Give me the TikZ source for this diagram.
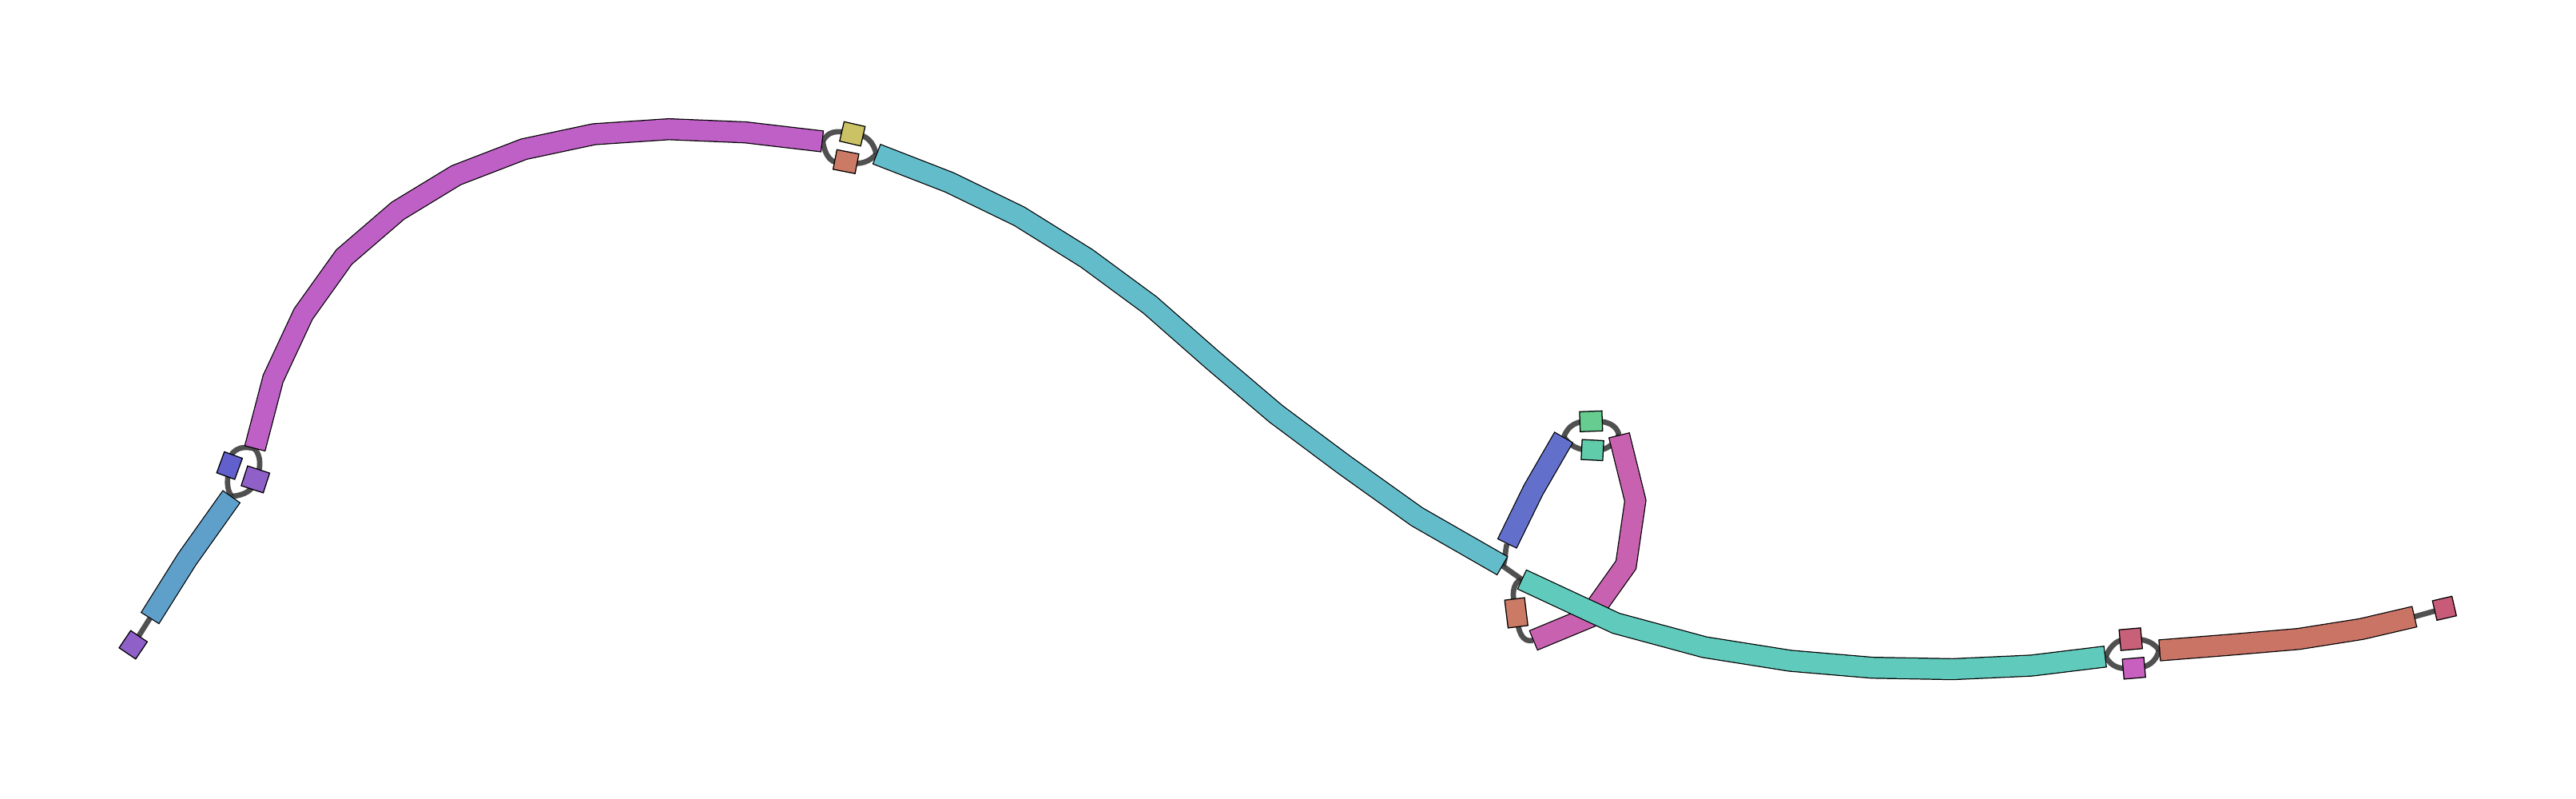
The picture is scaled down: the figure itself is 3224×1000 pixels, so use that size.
\documentclass[tikz,border=0pt]{standalone}
\pgfdeclarelayer{back}
\pgfdeclarelayer{bg}
\pgfsetlayers{back,bg,main}
\definecolor{cMag}{RGB}{190,96,198}
\definecolor{cCyan}{RGB}{99,188,202}
\definecolor{cLBlue}{RGB}{95,160,203}
\definecolor{cPurp}{RGB}{143,96,200}
\definecolor{cBPurp}{RGB}{98,96,204}
\definecolor{cYel}{RGB}{203,194,102}
\definecolor{cOra}{RGB}{203,122,102}
\definecolor{cBlue}{RGB}{98,112,204}
\definecolor{cGreen}{RGB}{102,204,144}
\definecolor{cTGreen}{RGB}{96,204,170}
\definecolor{cPink}{RGB}{200,98,176}
\definecolor{cTeal}{RGB}{96,202,188}
\definecolor{cPRed}{RGB}{200,96,122}
\definecolor{cMagSq}{RGB}{200,96,192}
\definecolor{cRed}{RGB}{202,116,102}
\definecolor{cRedSq}{RGB}{200,92,120}
\definecolor{cEdge}{RGB}{50,50,50}
\tikzset{
  riboutline/.style={line width=7.8pt, draw=black, line join=miter, miter limit=20},
  ribfill/.style={line width=7.1pt, draw=#1, line join=miter, miter limit=20, shorten <=0.36pt, shorten >=0.36pt},
  sq/.style={draw=black, line width=0.36pt, inner sep=0pt, fill=#1},
  conn/.style={draw=cEdge, line width=1.9pt, opacity=0.85}
}
\newcommand\ribbon[2]{\draw[riboutline] #2; \draw[ribfill=#1] #2;}
\begin{document}
\begin{tikzpicture}[x=0.01cm,y=-0.01cm]
\useasboundingbox (0,0) rectangle (3224,1000);
\begin{pgfonlayer}{back}
\fill[white] (0,0) rectangle (3224,1000);
\end{pgfonlayer}

% ribbon end coordinates
\coordinate (magA) at (318.9,561.7);
\coordinate (magB) at (1029.6,177);
\coordinate (lbA) at (290,621.2);
\coordinate (lbB) at (187.5,774);
\coordinate (cyA) at (1096.7,192.7);
\coordinate (cyB) at (1880.7,708.3);
\coordinate (blA) at (1886,680.7);
\coordinate (blB) at (1957.3,547);
\coordinate (pkA) at (2026.3,544.3);
\coordinate (pkB) at (1918.7,801.7);
\coordinate (tlA) at (1904.3,725);
\coordinate (tlB) at (2635.3,821.7);
\coordinate (rdA) at (2702.3,814);
\coordinate (rdB) at (3022.3,771.7);

% ribbons
\ribbon{cMag}{(magA) -- (341.8,474) -- (379.6,393) -- (430.6,321.7) -- (498,263.7) -- (571,219.3) -- (655.6,186.7) -- (743.4,168) -- (837.2,161.7) -- (933.2,165.7) -- (magB)}
\ribbon{cLBlue}{(lbA) -- (234,700) -- (lbB)}
\ribbon{cCyan}{(cyA) -- (1188.3,228.3) -- (1275.7,270.7) -- (1360,323.3) -- (1439.3,381.7) -- (1517,450) -- (1597,518) -- (1682.3,581.7) -- (1773.3,646.7) -- (cyB)}
\ribbon{cBlue}{(blA) -- (1919,613.3) -- (blB)}
\ribbon{cPink}{(pkA) -- (2046.7,626.7) -- (2035,707) -- (1988,773) -- (pkB)}
\ribbon{cTeal}{(tlA) -- (2022.3,780) -- (2133.3,810) -- (2240.7,827) -- (2343.3,835.7) -- (2444,837.5) -- (2542.7,833) -- (tlB)}
\ribbon{cRed}{(rdA) -- (2790.7,807) -- (2876.7,799.7) -- (2955.3,787.3) -- (rdB)}

% small nodes
\node[sq=cPurp, minimum width=0.25cm, minimum height=0.26cm, rotate=-34] (s1) at (166.7,807) {};
\node[sq=cBPurp, minimum width=0.24cm, minimum height=0.28cm, rotate=-20] (s2) at (287.3,582.7) {};
\node[sq=cPurp, minimum width=0.29cm, minimum height=0.26cm, rotate=-18] (s3) at (319.7,600) {};
\node[sq=cYel, minimum width=0.27cm, minimum height=0.25cm, rotate=-13] (s4) at (1066.8,167.5) {};
\node[sq=cOra, minimum width=0.28cm, minimum height=0.25cm, rotate=-11] (s5) at (1058.8,202.3) {};
\node[sq=cGreen, minimum width=0.28cm, minimum height=0.25cm, rotate=2] (s6) at (1991.3,527.3) {};
\node[sq=cTGreen, minimum width=0.27cm, minimum height=0.25cm, rotate=-3] (s7) at (1993,563.3) {};
\node[sq=cOra, minimum width=0.25cm, minimum height=0.35cm, rotate=7] (s8) at (1897.7,767) {};
\node[sq=cPRed, minimum width=0.27cm, minimum height=0.26cm, rotate=5] (s9) at (2666.7,800) {};
\node[sq=cMagSq, minimum width=0.27cm, minimum height=0.25cm, rotate=5] (s10) at (2670.7,836.3) {};
\node[sq=cRedSq, minimum width=0.25cm, minimum height=0.25cm, rotate=13] (s11) at (3059.3,761.3) {};

% connectors
\begin{pgfonlayer}{bg}
\draw[conn] (s1.center) -- (lbB);
\draw[conn] (magA) .. controls (300,556) and (285,565) .. (s2.center);
\draw[conn] (s2.center) .. controls (284,600) and (283,612) .. (lbA);
\draw[conn] (magA) .. controls (326,570) and (328,585) .. (s3.center);
\draw[conn] (s3.center) .. controls (318,614) and (305,620) .. (lbA);
\draw[conn] (magB) .. controls (1036,165) and (1045,162) .. (s4.center);
\draw[conn] (s4.center) .. controls (1085,168) and (1093,178) .. (cyA);
\draw[conn] (magB) .. controls (1033,195) and (1040,208) .. (s5.center);
\draw[conn] (s5.center) .. controls (1076,208) and (1089,202) .. (cyA);
\draw[conn] (blA) .. controls (1883,693) and (1885,700) .. (cyB);
\draw[conn] (cyB) -- (tlA);
\draw[conn] (tlA) .. controls (1892,730) and (1892,745) .. (s8.center);
\draw[conn] (s8.center) .. controls (1900,792) and (1905,804) .. (pkB);
\draw[conn] (blB) .. controls (1962,532) and (1975,526) .. (s6.center);
\draw[conn] (s6.center) .. controls (2012,526) and (2023,532) .. (pkA);
\draw[conn] (blB) .. controls (1965,558) and (1975,564) .. (s7.center);
\draw[conn] (s7.center) .. controls (2010,565) and (2019,557) .. (pkA);
\draw[conn] (tlB) .. controls (2643,805) and (2652,799) .. (s9.center);
\draw[conn] (s9.center) .. controls (2686,799) and (2696,805) .. (rdA);
\draw[conn] (tlB) .. controls (2643,836) and (2655,838) .. (s10.center);
\draw[conn] (s10.center) .. controls (2689,836) and (2698,828) .. (rdA);
\draw[conn] (rdB) -- (s11.center);
\end{pgfonlayer}
\end{tikzpicture}
\end{document}
